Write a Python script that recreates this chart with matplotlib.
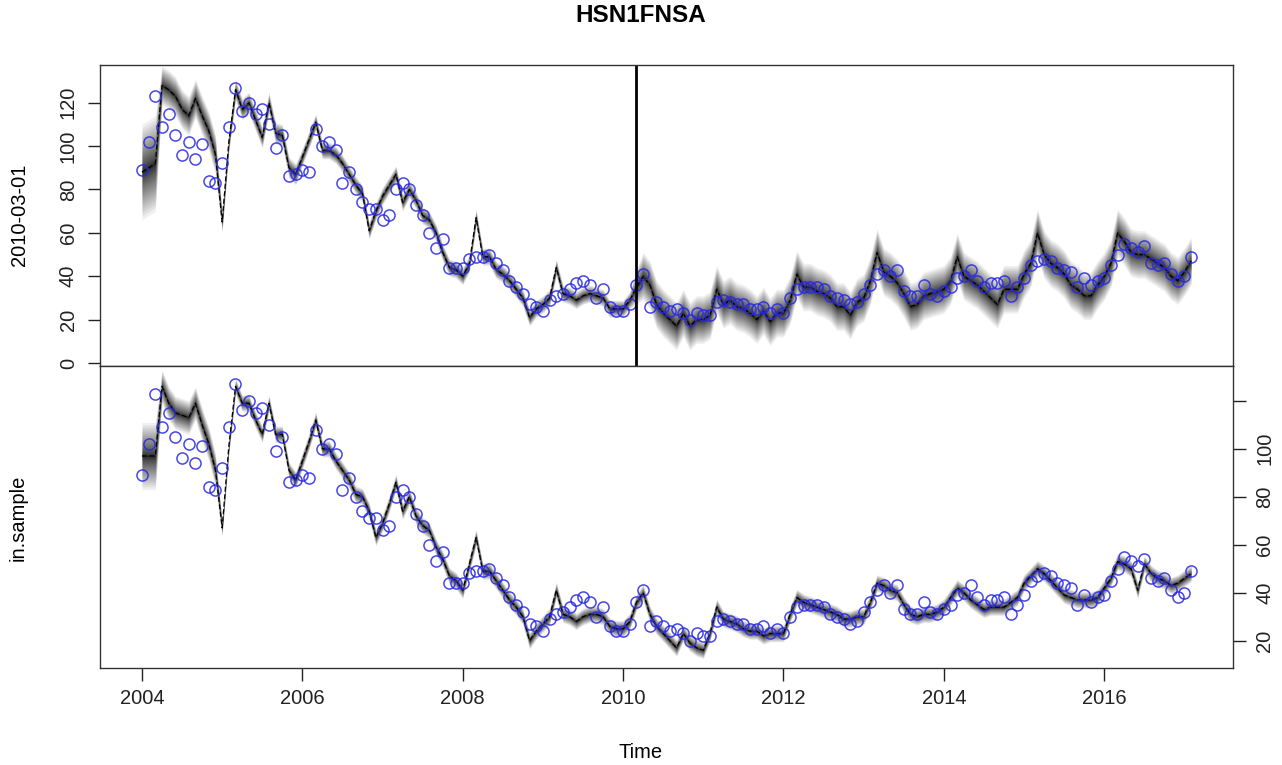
import numpy as np
import matplotlib
matplotlib.use("Agg")
import matplotlib.pyplot as plt

plt.rcParams['font.family'] = ['Liberation Sans', 'DejaVu Sans']

# ---------------- data (monthly, Jan 2004 .. Feb 2017) ----------------
start_year = 2004
observed = [
    89, 102, 123, 109, 115, 105, 96, 102, 94, 101, 84, 83,      # 2004
    92, 109, 127, 116, 120, 115, 117, 110, 99, 105, 86, 87,     # 2005
    89, 88, 108, 100, 102, 98, 83, 88, 80, 74, 71, 71,          # 2006
    66, 68, 80, 83, 80, 73, 68, 60, 53, 57, 44, 44,             # 2007
    44, 48, 49, 49, 50, 46, 43, 38, 35, 32, 27, 26,             # 2008
    24, 29, 31, 32, 34, 37, 38, 36, 30, 34, 26, 24,             # 2009
    24, 27, 36, 41, 26, 28, 26, 24, 25, 23, 20, 23,             # 2010
    22, 22, 28, 29, 28, 27, 27, 25, 25, 26, 23, 25,             # 2011
    23, 30, 34, 35, 35, 35, 34, 31, 30, 29, 27, 28,             # 2012
    32, 36, 41, 43, 40, 43, 33, 31, 31, 36, 32, 31,             # 2013
    33, 35, 39, 40, 43, 38, 35, 37, 37, 38, 31, 35,             # 2014
    39, 45, 47, 48, 47, 44, 43, 42, 35, 39, 36, 38,             # 2015
    39, 45, 50, 55, 53, 51, 54, 46, 45, 46, 41, 38,             # 2016
    40, 49,                                                     # 2017
]

# centre of the posterior distribution, model fit on data up to 2010-03-01
fit_cutoff = [
    88, 90, 92, 128, 126, 123, 117, 114, 122, 114, 107, 96,
    65, 102, 126, 117, 120, 112, 104, 120, 106, 105, 90, 87,
    95, 103, 111, 98, 98, 96, 92, 87, 82, 78, 61, 70,
    77, 82, 87, 74, 80, 75, 68, 66, 60, 51, 44, 43,
    40, 46, 67, 49, 49, 43, 41, 38, 34, 30, 21, 25,
    27, 30, 44, 32, 31, 29, 31, 32, 31, 30, 25, 25,
    25, 29, 35, 40, 36, 27, 23, 20, 17, 23, 17, 20,
    20, 22, 34, 27, 29, 26, 25, 23, 20, 24, 19, 23,
    23, 29, 41, 35, 35, 33, 32, 30, 26, 26, 22, 28,
    30, 38, 51, 42, 40, 37, 32, 26, 27, 31, 32, 33,
    34, 38, 49, 40, 38, 36, 33, 30, 27, 34, 34, 34,
    41, 46, 60, 50, 46, 44, 41, 36, 34, 31, 31, 36,
    40, 46, 60, 56, 51, 50, 50, 48, 46, 44, 40, 38,
    42, 47,
]
spread_cutoff = [
    22, 22, 22, 9, 9, 9, 9, 9, 9, 9, 9, 9,
    5, 5, 5, 5, 5, 5, 5, 5, 5, 5, 5, 5,
    4, 4, 4, 4, 4, 4, 4, 4, 4, 4, 4, 4,
    4, 4, 4, 4, 4, 4, 4, 4, 4, 4, 4, 4,
    4, 4, 4, 4, 4, 4, 4, 4, 4, 4, 4, 4,
    4, 4, 4, 4, 4, 4, 4, 4, 4, 4, 4, 4,
    4, 4, 8, 11, 11, 11, 11, 11, 11, 11, 11, 11,
    11, 11, 11, 11, 11, 11, 11, 11, 11, 11, 11, 11,
    11, 11, 11, 11, 11, 11, 11, 11, 11, 11, 11, 11,
    11, 11, 11, 11, 11, 11, 11, 11, 11, 11, 11, 11,
    11, 11, 11, 11, 11, 11, 11, 11, 11, 11, 11, 11,
    11, 11, 11, 11, 11, 11, 11, 11, 11, 11, 11, 11,
    11, 11, 11, 11, 11, 11, 11, 11, 11, 11, 11, 11,
    11, 11,
]

# centre of the posterior distribution, in-sample model
fit_insample = [
    97, 97, 97, 126, 119, 115, 114, 113, 119, 110, 102, 91,
    67, 101, 126, 119, 119, 112, 106, 119, 106, 106, 91, 87,
    95, 103, 112, 100, 100, 95, 91, 87, 81, 80, 74, 63,
    69, 77, 86, 74, 80, 72, 68, 66, 59, 54, 47, 45,
    41, 52, 63, 49, 49, 45, 41, 37, 34, 30, 20, 24,
    27, 30, 41, 31, 30, 28, 30, 31, 31, 30, 26, 25,
    25, 28, 36, 40, 31, 26, 23, 20, 17, 23, 19, 17,
    16, 23, 34, 29, 28, 27, 25, 24, 24, 22, 23, 23,
    23, 31, 38, 36, 35, 34, 33, 32, 31, 29, 29, 30,
    30, 36, 44, 43, 41, 40, 35, 31, 30, 31, 31, 32,
    34, 38, 42, 40, 37, 35, 33, 34, 34, 34, 36, 38,
    44, 47, 50, 48, 45, 42, 39, 38, 37, 37, 37, 38,
    42, 46, 53, 52, 50, 41, 52, 48, 46, 45, 43, 44,
    46, 48,
]
spread_insample = [14, 14, 14, 7, 7, 7, 7, 7, 7, 7, 7, 7] + [3.5] * 146

cutoff_date = 2010 + 2 / 12          # 2010-03-01
y_ticks_top = [0, 20, 40, 60, 80, 100, 120]
y_ticks_bottom = [20, 40, 60, 80, 100, 120]
y_labels_bottom = ['20', '40', '60', '80', '100', '']
x_ticks = [2004, 2006, 2008, 2010, 2012, 2014, 2016]

# ---------------- figure ----------------
W, H = 1282, 765
fig = plt.figure(figsize=(W / 100, H / 100), dpi=100)

L, R = 100 / W, 1233 / W
ax_top = fig.add_axes([L, (H - 366) / H, R - L, 301 / H])
ax_bot = fig.add_axes([L, (H - 668) / H, R - L, 302 / H])

t = start_year + np.arange(len(observed)) / 12.0
FS = 14.5


def draw_fan(ax, centre, spread):
    c = np.asarray(centre, float)
    s = np.asarray(spread, float)
    # nested bands, denser towards the centre -> soft density-like shading
    levels = np.linspace(1.0, 0.04, 32) ** 2.5
    for f in levels:
        ax.fill_between(t, c - s * f, c + s * f, color='black', alpha=0.06,
                        linewidth=0)
    ax.plot(t, c, color='black', lw=0.9, ls=(0, (4, 2)))


for ax, centre, spread in ((ax_top, fit_cutoff, spread_cutoff),
                           (ax_bot, fit_insample, spread_insample)):
    draw_fan(ax, centre, spread)
    ax.plot(t, observed, ls='none', marker='o', ms=8, mfc='none',
            mec=(0.15, 0.15, 0.9, 0.85), mew=1.1)
    ax.set_xlim(2003.477, 2017.606)
    for sp in ax.spines.values():
        sp.set_color('#333333')
        sp.set_linewidth(1.0)

ax_top.axvline(cutoff_date, color='black', lw=2.0)

# top panel axes
ax_top.set_ylim(-1.4, 137.4)
ax_top.set_xticks([])
ax_top.set_yticks(y_ticks_top)
ax_top.set_yticklabels([str(v) for v in y_ticks_top])
ax_top.tick_params(axis='y', direction='out', length=9, width=1.0,
                   labelsize=FS, pad=7, colors='#222222')
for lab in ax_top.get_yticklabels():
    lab.set_rotation(90)
    lab.set_va('center')

# bottom panel axes
ax_bot.set_ylim(8.6, 134.5)
ax_bot.yaxis.tick_right()
ax_bot.set_yticks(y_ticks_bottom)
ax_bot.set_yticklabels(y_labels_bottom)
ax_bot.tick_params(axis='y', direction='out', length=9, width=1.0,
                   labelsize=FS, pad=7, colors='#222222')
for lab in ax_bot.get_yticklabels():
    lab.set_rotation(90)
    lab.set_va('center')
ax_bot.set_xticks(x_ticks)
ax_bot.set_xticklabels([str(v) for v in x_ticks])
ax_bot.tick_params(axis='x', direction='out', length=9, width=1.0,
                   labelsize=FS, pad=6, colors='#222222')

# texts
fig.text(0.5, 1 - 15 / H, 'HSN1FNSA', ha='center', va='center',
         fontsize=17.5, fontweight='bold')
fig.text(0.5, 1 - 752 / H, 'Time', ha='center', va='center', fontsize=FS)
fig.text(20 / W, 1 - 215 / H, '2010-03-01', rotation=90, ha='center',
         va='center', fontsize=FS)
fig.text(18 / W, 1 - 518 / H, 'in.sample', rotation=90, ha='center',
         va='center', fontsize=FS)

fig.savefig('out.png', dpi=100)
